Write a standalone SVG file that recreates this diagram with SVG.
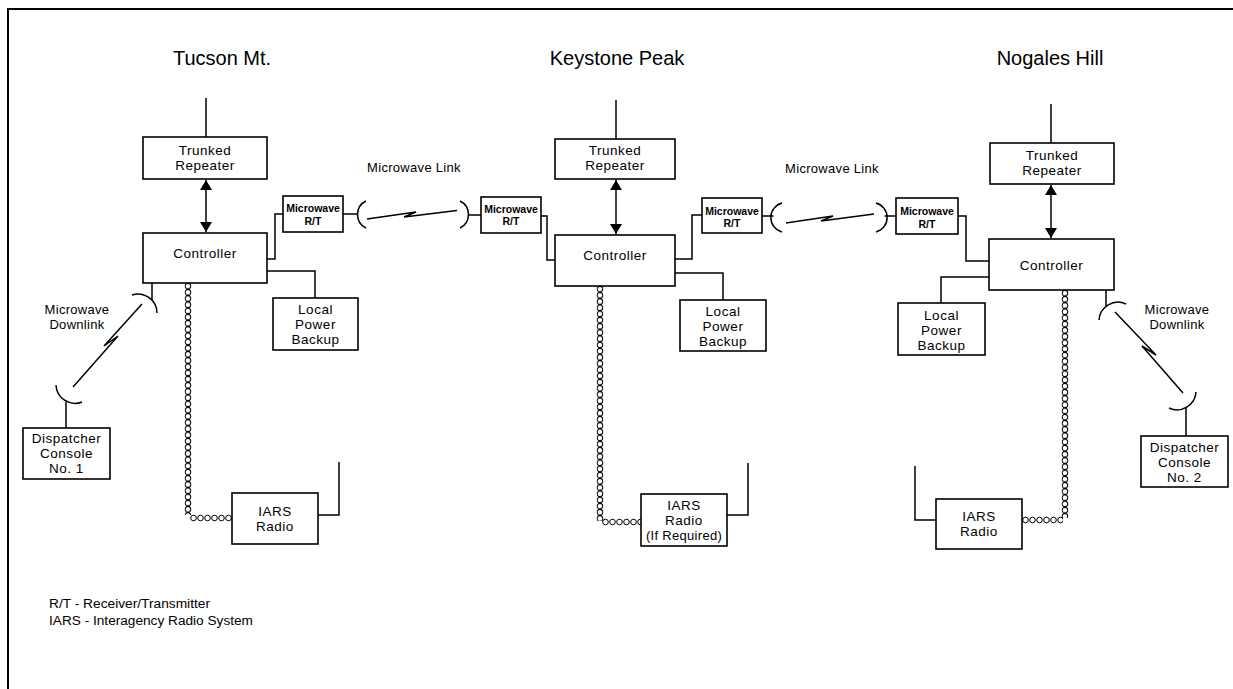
<svg xmlns="http://www.w3.org/2000/svg" width="1233" height="689" viewBox="0 0 1233 689">
<style>
.box{fill:#fff;stroke:#000;stroke-width:1.6}
.ln{fill:none;stroke:#000;stroke-width:1.5}
.bolt{fill:none;stroke:#000;stroke-width:1.5;stroke-linejoin:miter}
.t{font-family:"Liberation Sans",Arial,sans-serif;font-size:13.5px;letter-spacing:0.5px;text-anchor:middle;fill:#000}
.title{font-size:20px;letter-spacing:0}
.sm{font-size:10.5px;font-weight:bold;letter-spacing:0}
.lbl{font-size:13px;letter-spacing:0.3px}
.leg{font-size:12px;text-anchor:start;letter-spacing:0}
</style>
<defs>
<marker id="ah" viewBox="0 0 10 12" refX="10" refY="6" markerWidth="10" markerHeight="12" markerUnits="userSpaceOnUse" orient="auto-start-reverse">
<path d="M0,0 L10,6 L0,12 z" fill="#000"/>
</marker>
<pattern id="coilV" width="8" height="6.2" patternUnits="userSpaceOnUse">
<circle cx="4" cy="3.1" r="2.8" fill="none" stroke="#000" stroke-width="1"/>
</pattern>
<pattern id="coilH" width="7" height="8" patternUnits="userSpaceOnUse">
<circle cx="3.5" cy="4" r="2.8" fill="none" stroke="#000" stroke-width="1"/>
</pattern>
</defs>
<rect width="1233" height="689" fill="#fff"/>
<g id="frame" class="ln" style="stroke-width:2">
<path d="M8,689 V9 H1233"/>
</g>
<g id="titles">
<text class="t title" x="222" y="65">Tucson Mt.</text>
<text class="t title" x="617" y="65">Keystone Peak</text>
<text class="t title" x="1050" y="65">Nogales Hill</text>
</g>
<g id="connectors">
<path class="ln" d="M206,98 V137 M616,100 V139 M1051,104 V143"/>
<path class="ln" d="M318,515 H339 V462 M727,515 H748 V463 M936,520 H915 V466"/>
<line class="ln" x1="206" y1="180" x2="206" y2="232" marker-start="url(#ah)" marker-end="url(#ah)"/>
<line class="ln" x1="616" y1="180" x2="616" y2="234" marker-start="url(#ah)" marker-end="url(#ah)"/>
<line class="ln" x1="1051" y1="185" x2="1051" y2="238" marker-start="url(#ah)" marker-end="url(#ah)"/>
<path class="ln" d="M267,259 H275 V214 H283 M267,271 H315 V298"/>
<path class="ln" d="M541,216 H547 V260 H555 M675,259 H692 V215 H702 M675,273 H723 V300"/>
<path class="ln" d="M958,216 H966 V261 H989 M989,277 H941 V303"/>
<path class="ln" d="M343,214 H357.5 M366,201 A15,15 0 0 0 366,228"/>
<path class="ln" d="M460,201 A15,15 0 0 1 460,228 M468.5,215 H481"/>
<polyline class="bolt" points="367,219 416,212 404,217 457,210.5"/>
<path class="ln" d="M762,216 H773.5 M782,203 A15,15 0 0 0 782,232"/>
<path class="ln" d="M876,203 A15,15 0 0 1 876,232 M884.5,216 H896"/>
<polyline class="bolt" points="786,223 833,216 821,221 874,214"/>
<path class="ln" d="M152,283 V300 M132,295 A19,19 0 0 1 157,313"/>
<path class="ln" d="M56,385 A19,19 0 0 0 82,402 M66,401 V428"/>
<polyline class="bolt" points="142,304 104,346 118,336 73,387"/>
<path class="ln" d="M1106,290 V306 M1126,304 A19,19 0 0 0 1099,320"/>
<path class="ln" d="M1196,392 A19,19 0 0 1 1169,408 M1186,407 V436"/>
<polyline class="bolt" points="1115,312 1156,355 1142,346 1183,393"/>
<g transform="translate(184,283)"><rect width="8" height="232" fill="url(#coilV)"/></g>
<g transform="translate(190,514)"><rect width="42" height="8" fill="url(#coilH)"/></g>
<g transform="translate(596,286)"><rect width="8" height="235" fill="url(#coilV)"/></g>
<g transform="translate(602,518)"><rect width="39" height="8" fill="url(#coilH)"/></g>
<g transform="translate(1061,290)"><rect width="8" height="228" fill="url(#coilV)"/></g>
<g transform="translate(1022,516)"><rect width="41" height="8" fill="url(#coilH)"/></g>
</g>
<g id="labels">
<text class="t lbl" x="414" y="172">Microwave Link</text>
<text class="t lbl" x="832" y="173">Microwave Link</text>
<text class="t lbl" x="77" y="314">Microwave</text>
<text class="t lbl" x="77" y="329">Downlink</text>
<text class="t lbl" x="1177" y="314">Microwave</text>
<text class="t lbl" x="1177" y="329">Downlink</text>
</g>
<g id="tucson-repeater"><rect class="box" x="143" y="137" width="124" height="42"/><text class="t" x="205" y="155">Trunked</text><text class="t" x="205" y="170">Repeater</text></g>
<g id="tucson-controller"><rect class="box" x="143" y="233" width="124" height="50"/><text class="t" x="205" y="258">Controller</text></g>
<g id="tucson-mwrt"><rect class="box" x="283" y="196" width="60" height="36"/><text class="t sm" x="313" y="212">Microwave</text><text class="t sm" x="313" y="225">R/T</text></g>
<g id="tucson-power"><rect class="box" x="273" y="298" width="85" height="52"/><text class="t" x="315.5" y="314">Local</text><text class="t" x="315.5" y="329">Power</text><text class="t" x="315.5" y="344">Backup</text></g>
<g id="dispatcher-1"><rect class="box" x="23" y="428" width="87" height="51"/><text class="t" x="66.5" y="443">Dispatcher</text><text class="t" x="66.5" y="458">Console</text><text class="t" x="66.5" y="473">No. 1</text></g>
<g id="tucson-iars"><rect class="box" x="232" y="493" width="86" height="51"/><text class="t" x="275" y="516">IARS</text><text class="t" x="275" y="531">Radio</text></g>
<g id="keystone-repeater"><rect class="box" x="555" y="139" width="120" height="40"/><text class="t" x="615" y="155">Trunked</text><text class="t" x="615" y="170">Repeater</text></g>
<g id="keystone-controller"><rect class="box" x="555" y="235" width="120" height="51"/><text class="t" x="615" y="260">Controller</text></g>
<g id="keystone-mwrt-west"><rect class="box" x="481" y="197" width="60" height="36"/><text class="t sm" x="511" y="213">Microwave</text><text class="t sm" x="511" y="225">R/T</text></g>
<g id="keystone-mwrt-east"><rect class="box" x="702" y="198" width="60" height="35"/><text class="t sm" x="732" y="215">Microwave</text><text class="t sm" x="732" y="227">R/T</text></g>
<g id="keystone-power"><rect class="box" x="680" y="300" width="86" height="51"/><text class="t" x="723" y="316">Local</text><text class="t" x="723" y="331">Power</text><text class="t" x="723" y="346">Backup</text></g>
<g id="keystone-iars"><rect class="box" x="641" y="494" width="86" height="52"/><text class="t" x="684" y="510">IARS</text><text class="t" x="684" y="525">Radio</text><text class="t lbl" x="684" y="540">(If Required)</text></g>
<g id="nogales-repeater"><rect class="box" x="990" y="143" width="124" height="41"/><text class="t" x="1052" y="160">Trunked</text><text class="t" x="1052" y="175">Repeater</text></g>
<g id="nogales-controller"><rect class="box" x="989" y="239" width="125" height="51"/><text class="t" x="1051.5" y="270">Controller</text></g>
<g id="nogales-mwrt"><rect class="box" x="896" y="198" width="62" height="36"/><text class="t sm" x="927" y="215">Microwave</text><text class="t sm" x="927" y="228">R/T</text></g>
<g id="nogales-power"><rect class="box" x="898" y="303" width="87" height="52"/><text class="t" x="941.5" y="320">Local</text><text class="t" x="941.5" y="335">Power</text><text class="t" x="941.5" y="350">Backup</text></g>
<g id="dispatcher-2"><rect class="box" x="1141" y="436" width="87" height="51"/><text class="t" x="1184.5" y="452">Dispatcher</text><text class="t" x="1184.5" y="467">Console</text><text class="t" x="1184.5" y="482">No. 2</text></g>
<g id="nogales-iars"><rect class="box" x="936" y="499" width="86" height="50"/><text class="t" x="979" y="521">IARS</text><text class="t" x="979" y="536">Radio</text></g>
<g id="legend">
<text class="t leg" x="49" y="608" textLength="161" lengthAdjust="spacingAndGlyphs">R/T - Receiver/Transmitter</text>
<text class="t leg" x="49" y="625" textLength="204" lengthAdjust="spacingAndGlyphs">IARS - Interagency Radio System</text>
</g>
</svg>
